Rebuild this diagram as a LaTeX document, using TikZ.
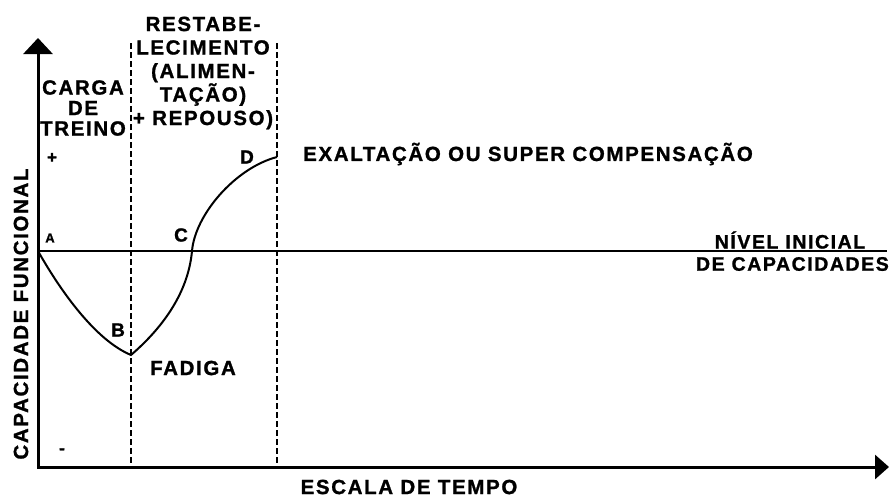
\documentclass[tikz,border=0pt]{standalone}
\usepackage{fontspec}
\setmainfont{Liberation Sans}[LetterSpace=8, BoldFeatures={FakeBold=1.2}]
\usetikzlibrary{arrows.meta}
\tikzset{
  lbl/.style={font=\fontsize{20.5}{23.5}\selectfont\bfseries, inner sep=0pt},
  pointlbl/.style={font=\fontsize{19}{20}\selectfont\bfseries, inner sep=0pt},
  tinylbl/.style={font=\fontsize{13}{14}\selectfont\bfseries, inner sep=0pt},
  phase/.style={line width=1.4pt, dash pattern=on 6pt off 3pt},
}
\begin{document}
\begin{tikzpicture}[x=1pt,y=-1pt]
\useasboundingbox (0,0) rectangle (889,498);
% axes
\coordinate (O) at (38,467);
\coordinate (ytop) at (38,38);
\coordinate (xend) at (889,467);
\draw[line width=3pt, line join=miter,
  {Triangle[width=29pt,length=16pt]}-{Triangle[width=24pt,length=14pt]}] (ytop) -- (O) -- (xend);
% initial level
\coordinate (A) at (38,251);
\coordinate (lvlend) at (887,251);
\draw[line width=1.8pt] (A) -- (lvlend);
% phase limits
\coordinate (t1) at (131,43);
\coordinate (b1) at (131,467);
\coordinate (t2) at (277,43);
\coordinate (b2) at (277,467);
\draw[phase] (t1) -- (b1);
\draw[phase] (t2) -- (b2);
% curve
\coordinate (B) at (131,355);
\coordinate (C) at (192,251);
\coordinate (D) at (277,157);
\draw[line width=2pt] (A) .. controls (60,290) and (95,340) .. (B)
  .. controls (160,330) and (188,295) .. (C)
  .. controls (195,215) and (235,168) .. (D);

\node[tinylbl] (lA) at (50,238) {A};
\node[pointlbl] (lB) at (118,330) {B};
\node[pointlbl] (lC) at (181,235) {C};
\node[pointlbl] (lD) at (247,157) {D};
\node[font=\fontsize{17}{18}\selectfont\bfseries, inner sep=0pt] (plus) at (52,158) {+};
\node[font=\fontsize{17}{18}\selectfont\bfseries, inner sep=0pt] (minus) at (62,451) {-};

\node[lbl, align=center] (carga) at (83,108) {CARGA\\[-3pt]DE\\[-3pt]TREINO};
\node[lbl, align=center] (restab) at (203,73) {RESTABE-\\LECIMENTO\\(ALIMEN-\\TAÇÃO)\\+ REPOUSO)};
\node[lbl] (fadiga) at (193,368) {FADIGA};
\node[lbl, anchor=west] (exalt) at (303,154) {EXALTAÇÃO OU SUPER COMPENSAÇÃO};
\node[lbl, font=\fontsize{19.5}{20}\selectfont\bfseries] (nivel) at (790,240) {NÍVEL INICIAL};
\node[lbl, font=\fontsize{19.5}{20}\selectfont\bfseries, anchor=east] (decap) at (889,264) {DE CAPACIDADES};
\node[lbl] (tempo) at (409,487) {ESCALA DE TEMPO};
\node[lbl, rotate=90] (capac) at (21,314) {CAPACIDADE FUNCIONAL};
\end{tikzpicture}
\end{document}
